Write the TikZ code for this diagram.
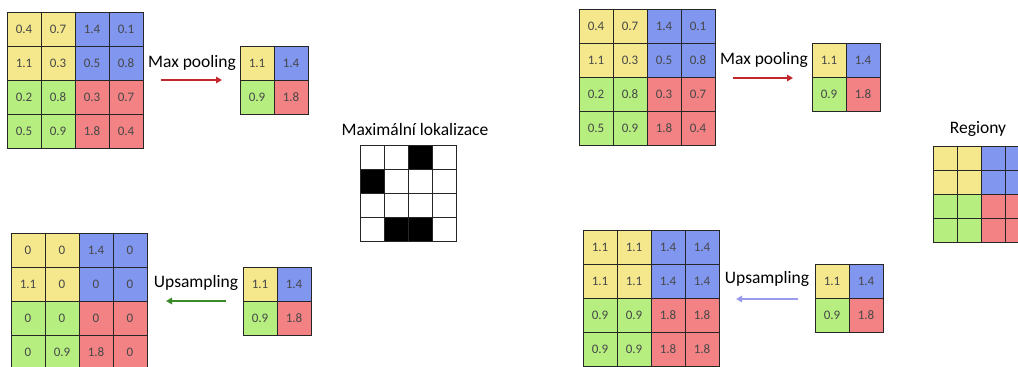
\documentclass[tikz,border=0pt]{standalone}
\usepackage{fontspec}
\setmainfont{Carlito}
\usetikzlibrary{arrows.meta,positioning}

\definecolor{q0}{HTML}{F5E88C}
\definecolor{q1}{HTML}{8096EF}
\definecolor{q2}{HTML}{B6EF80}
\definecolor{q3}{HTML}{F28284}

% 4x4 map, colours by quadrant: name, left, top, values
\newcommand{\bigmap}[4]{%
  \foreach \v [count=\i from 0] in {#4} {
    \pgfmathtruncatemacro{\c}{mod(\i,4)}
    \pgfmathtruncatemacro{\r}{div(\i,4)}
    \pgfmathtruncatemacro{\q}{2*(\r>1)+(\c>1)}
    \node[cell, fill=q\q] (#1-\r-\c) at ({#2+34*\c+17},{#3+34*\r+17}) {\v};
  }}
% 2x2 pooled map: name, left, top
\newcommand{\smallmap}[3]{%
  \foreach \v [count=\i from 0] in {1.1,1.4,0.9,1.8} {
    \pgfmathtruncatemacro{\c}{mod(\i,2)}
    \pgfmathtruncatemacro{\r}{div(\i,2)}
    \node[cell, fill=q\i] (#1-\r-\c) at ({#2+34*\c+17},{#3+34*\r+17}) {\v};
  }}

\begin{document}
\begin{tikzpicture}[x=1pt, y=-1pt,
  cell/.style={draw=black!85, line width=0.8pt, minimum size=34pt, inner sep=0pt, outer sep=0pt,
    font=\fontsize{13}{15}\selectfont, text=black!72},
  tiny/.style={cell, minimum size=24pt},
  lbl/.style={anchor=base, font=\fontsize{17.5}{20}\selectfont},
  flow/.style={line width=2pt, -{Triangle[length=6pt,width=6.5pt]}}]
  \useasboundingbox (0,0) rectangle (1018,367);

  % Max pooling, left
  \bigmap{inA}{7}{12}{0.4,0.7,1.4,0.1,1.1,0.3,0.5,0.8,0.2,0.8,0.3,0.7,0.5,0.9,1.8,0.4}
  \smallmap{outA}{240}{46}
  \node[lbl] (poolA) at (192,67) {Max pooling};
  \coordinate (poolA-s) at (161,80);
  \coordinate (poolA-e) at (222,80);
  \draw[flow, color={rgb,255:red,193;green,39;blue,45}] (poolA-s) -- (poolA-e);

  % Upsampling, left
  \bigmap{upA}{11}{233}{0,0,1.4,0,1.1,0,0,0,0,0,0,0,0,0.9,1.8,0}
  \smallmap{srcA}{243}{267}
  \node[lbl] (upsA) at (196,287) {Upsampling};
  \coordinate (upsA-s) at (226,301);
  \coordinate (upsA-e) at (166,301);
  \draw[flow, color={rgb,255:red,58;green,138;blue,40}] (upsA-s) -- (upsA-e);

  % Maximal locations
  \node[lbl] (loc) at (415,135) {Maximální lokalizace};
  \foreach \f [count=\i from 0] in {white,white,black,white,black,white,white,white,
                                    white,white,white,white,white,black,black,white} {
    \pgfmathtruncatemacro{\c}{mod(\i,4)}
    \pgfmathtruncatemacro{\r}{div(\i,4)}
    \node[tiny, fill=\f] (loc-\r-\c) at ({360+24*\c+12},{145+24*\r+12}) {};
  }

  % Max pooling, right
  \bigmap{inB}{579}{9}{0.4,0.7,1.4,0.1,1.1,0.3,0.5,0.8,0.2,0.8,0.3,0.7,0.5,0.9,1.8,0.4}
  \smallmap{outB}{812}{43}
  \node[lbl] (poolB) at (764,64) {Max pooling};
  \coordinate (poolB-s) at (733,78);
  \coordinate (poolB-e) at (793,78);
  \draw[flow, color={rgb,255:red,193;green,39;blue,45}] (poolB-s) -- (poolB-e);

  % Upsampling, right
  \bigmap{upB}{583}{230}{1.1,1.1,1.4,1.4,1.1,1.1,1.4,1.4,0.9,0.9,1.8,1.8,0.9,0.9,1.8,1.8}
  \smallmap{srcB}{815}{264}
  \node[lbl] (upsB) at (767,283) {Upsampling};
  \coordinate (upsB-s) at (798,299);
  \coordinate (upsB-e) at (736,299);
  \draw[flow, color={rgb,255:red,155;green,155;blue,238}] (upsB-s) -- (upsB-e);

  % Regions
  \node[lbl] (reg) at (978,133) {Regiony};
  \foreach \i in {0,...,15} {
    \pgfmathtruncatemacro{\c}{mod(\i,4)}
    \pgfmathtruncatemacro{\r}{div(\i,4)}
    \pgfmathtruncatemacro{\q}{2*(\r>1)+(\c>1)}
    \node[tiny, fill=q\q] (reg-\r-\c) at ({933+24*\c+12},{146+24*\r+12}) {};
  }
\end{tikzpicture}
\end{document}
